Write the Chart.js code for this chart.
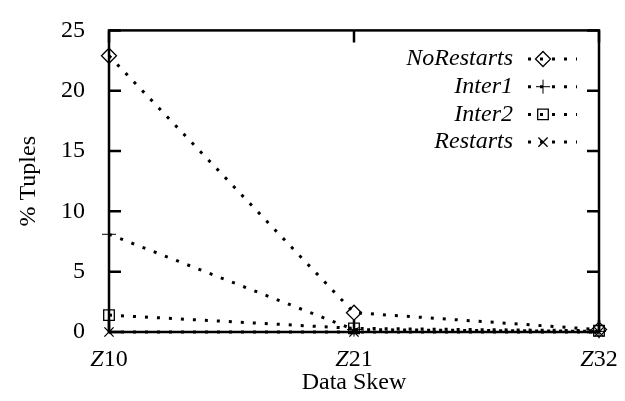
<!DOCTYPE html>
<html>
<head>
<meta charset="utf-8">
<script src="https://cdn.jsdelivr.net/npm/chart.js@4/dist/chart.umd.min.js"></script>
<style>
  html, body { margin: 0; padding: 0; background: #fff; }
  #wrap { width: 625px; height: 401px; }
</style>
</head>
<body>
<div id="wrap"><canvas id="skewChart" width="625" height="401"></canvas></div>
<script>
const categories = ['Z10', 'Z21', 'Z32'];
const noRestarts = [22.9, 1.6, 0.2];
const inter1 = [8.1, 0.2, 0.05];
const inter2 = [1.4, 0.3, 0.1];
const restarts = [0, 0, 0];
const yTicks = [0, 5, 10, 15, 20, 25];

const serif = 'Liberation Serif';

function series(label, data, style, radius, bw) {
    return {
        label: label,
        data: data,
        borderColor: '#000',
        borderWidth: 3,
        borderDash: [3, 9],
        borderCapStyle: 'butt',
        tension: 0,
        fill: false,
        pointStyle: style,
        pointRadius: radius,
        pointHoverRadius: radius,
        pointBorderColor: '#000',
        pointBackgroundColor: 'rgba(0,0,0,0)',
        pointBorderWidth: bw,
        clip: false,
    };
}

// gnuplot style frame, inward ticks, split-font x labels and legend
const gnuplotBits = {
    id: 'gnuplotBits',
    beforeDatasetsDraw(chart) {
        const { ctx, chartArea: a, scales } = chart;
        ctx.save();
        ctx.strokeStyle = '#000';
        ctx.lineWidth = 2.5;
        ctx.strokeRect(a.left, a.top, a.right - a.left, a.bottom - a.top);
        ctx.beginPath();
        yTicks.forEach(v => {
            const y = scales.y.getPixelForValue(v);
            ctx.moveTo(a.left, y); ctx.lineTo(a.left + 12, y);
            ctx.moveTo(a.right, y); ctx.lineTo(a.right - 12, y);
        });
        categories.forEach((c, i) => {
            const x = scales.x.getPixelForValue(i);
            ctx.moveTo(x, a.top); ctx.lineTo(x, a.top + 12);
            ctx.moveTo(x, a.bottom); ctx.lineTo(x, a.bottom - 12);
        });
        ctx.stroke();

        // x tick labels: italic Z, roman digits
        ctx.fillStyle = '#000';
        ctx.textBaseline = 'middle';
        ctx.textAlign = 'left';
        categories.forEach((c, i) => {
            const x = scales.x.getPixelForValue(i);
            const head = c.slice(0, 1), tail = c.slice(1);
            ctx.font = 'italic 24px "' + serif + '"';
            const w1 = ctx.measureText(head).width;
            ctx.font = '24px "' + serif + '"';
            const w2 = ctx.measureText(tail).width;
            const x0 = x - (w1 + w2) / 2;
            ctx.font = 'italic 24px "' + serif + '"';
            ctx.fillText(head, x0, 360);
            ctx.font = '24px "' + serif + '"';
            ctx.fillText(tail, x0 + w1, 360);
        });
        ctx.restore();
    },
    afterDraw(chart) {
        const { ctx } = chart;
        ctx.save();
        chart.data.datasets.forEach((ds, i) => {
            const y = 59 + i * 27.7;
            ctx.fillStyle = '#000';
            ctx.font = 'italic 24px "' + serif + '"';
            ctx.textAlign = 'right';
            ctx.textBaseline = 'middle';
            ctx.fillText(ds.label, 513, y);
            ctx.strokeStyle = '#000';
            ctx.lineWidth = 3;
            ctx.lineCap = 'butt';
            ctx.setLineDash([3, 9]);
            ctx.beginPath();
            ctx.moveTo(528, y);
            ctx.lineTo(577, y);
            ctx.stroke();
            ctx.setLineDash([]);
            ctx.lineWidth = ds.pointBorderWidth;
            ctx.fillStyle = 'rgba(0,0,0,0)';
            Chart.helpers.drawPoint(ctx, {
                pointStyle: ds.pointStyle,
                radius: ds.pointRadius,
                borderWidth: ds.pointBorderWidth,
                rotation: 0,
            }, 543, y);
        });
        ctx.restore();
    }
};

new Chart(document.getElementById('skewChart'), {
    type: 'line',
    data: {
        labels: categories,
        datasets: [
            series('NoRestarts', noRestarts, 'rectRot', 7.5, 1.3),
            series('Inter1', inter1, 'cross', 7, 1),
            series('Inter2', inter2, 'rect', 7.5, 1.3),
            series('Restarts', restarts, 'crossRot', 6.5, 1.3),
        ]
    },
    options: {
        responsive: false,
        animation: false,
        events: [],
        layout: { padding: { top: 16, right: 26, left: 0, bottom: 0 } },
        plugins: {
            legend: { display: false },
            tooltip: { enabled: false },
        },
        scales: {
            x: {
                type: 'category',
                offset: false,
                grid: { display: false },
                border: { display: false },
                ticks: { display: false },
                afterFit: s => { s.height = 69; },
                title: {
                    display: true,
                    text: 'Data Skew',
                    color: '#000',
                    font: { family: serif, size: 24 },
                    padding: { top: 0, bottom: 4 },
                }
            },
            y: {
                min: 0,
                max: 25,
                grid: { display: false },
                border: { display: false },
                ticks: {
                    stepSize: 5,
                    color: '#000',
                    padding: 16,
                    font: { family: serif, size: 24 },
                },
                afterFit: s => { s.width = 109; },
                title: {
                    display: true,
                    text: '% Tuples',
                    color: '#000',
                    font: { family: serif, size: 24 },
                    padding: { top: 14, bottom: 0 },
                }
            }
        }
    },
    plugins: [gnuplotBits]
});
</script>
</body>
</html>
